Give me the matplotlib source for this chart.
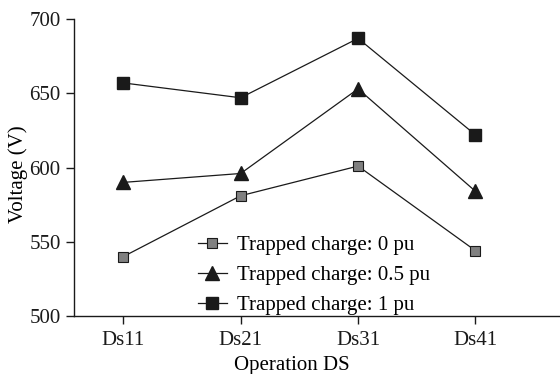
import matplotlib.pyplot as plt

# data
categories = ["Ds11", "Ds21", "Ds31", "Ds41"]
charge_0 = [540, 581, 601, 544]
charge_05 = [590, 596, 653, 584]
charge_1 = [657, 647, 687, 622]
labels = ["Trapped charge: 0 pu", "Trapped charge: 0.5 pu", "Trapped charge: 1 pu"]

plt.rcParams['font.family'] = ['Liberation Serif', 'DejaVu Serif']

fig = plt.figure(figsize=(5.6, 3.74), dpi=100)
ax = fig.add_axes([0.132, 0.155, 0.868, 0.794])

x = range(len(categories))
ax.plot(x, charge_0, color="#1a1a1a", lw=0.9, marker="s", ms=7.5,
        mfc="#808080", mec="#1a1a1a", mew=0.8, label=labels[0])
ax.plot(x, charge_05, color="#1a1a1a", lw=0.9, marker="^", ms=10.5,
        mfc="#1a1a1a", mec="#1a1a1a", label=labels[1])
ax.plot(x, charge_1, color="#1a1a1a", lw=0.9, marker="s", ms=8,
        mfc="#1a1a1a", mec="#1a1a1a", label=labels[2])

ax.set_xlim(-0.42, 3.72)
ax.set_ylim(500, 700)
ax.set_xticks(list(x))
ax.set_xticklabels(categories)
ax.set_yticks([500, 550, 600, 650, 700])

for s in ["top", "right"]:
    ax.spines[s].set_visible(False)
for s in ["left", "bottom"]:
    ax.spines[s].set_linewidth(1.0)
    ax.spines[s].set_color("#1a1a1a")
ax.tick_params(direction="out", length=6, width=1.0, labelsize=15, colors="#1a1a1a")
ax.tick_params(axis="x", pad=5)

ax.set_ylabel("Voltage (V)", fontsize=15)
ax.set_xlabel("Operation DS", fontsize=15)
ax.xaxis.set_label_coords(0.449, -0.135)
ax.yaxis.set_label_coords(-0.095, 0.478)

ax.legend(loc="upper left", bbox_to_anchor=(0.255, 0.27), frameon=False,
          fontsize=15, handlelength=1.4, handletextpad=0.5,
          labelspacing=0.5, borderpad=0, borderaxespad=0)

plt.savefig("out.png", dpi=100)
